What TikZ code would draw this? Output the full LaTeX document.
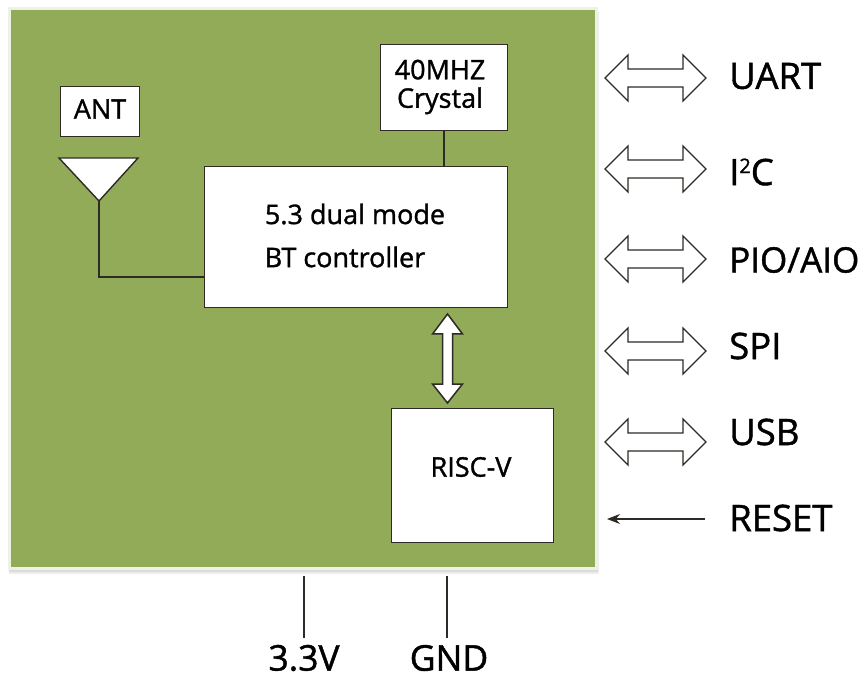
\documentclass[tikz,border=0pt]{standalone}
\usepackage{fontspec}
\setmainfont[FakeBold=1.2]{Open Sans}
\usetikzlibrary{positioning,calc,arrows.meta}
\definecolor{panelgreen}{HTML}{91AB58}
\definecolor{panelrim}{HTML}{EEF2E4}
\definecolor{inkline}{HTML}{2E2A25}
\tikzset{
  x=1pt,y=-1pt,
  wbox/.style={draw=inkline,fill=white,line width=1.4pt,inner sep=0pt,anchor=north west},
  boxtext/.style={inner sep=0pt,align=center,font=\fontsize{27}{28.5}\selectfont},
  wire/.style={draw=inkline,line width=1.4pt},
  fatarrow/.style={draw=inkline,fill=white,line width=1.3pt,line join=miter},
  sidelabel/.style={anchor=west,inner sep=0pt,font=\fontsize{36.5}{38}\selectfont},
  pinlabel/.style={anchor=center,inner sep=0pt,font=\fontsize{35.5}{38}\selectfont},
}
\newcommand{\hdouble}[1]{%
  \draw[fatarrow] (605,#1) -- (628,#1-23) -- (628,#1-9) -- (683,#1-9) -- (683,#1-23)
    -- (706,#1) -- (683,#1+23) -- (683,#1+9) -- (628,#1+9) -- (628,#1+23) -- cycle;}
\begin{document}
\begin{tikzpicture}
\useasboundingbox (0,0) rectangle (863,679);
% panel shadow, rim, fill
\fill[black!7] (9,12) rectangle (599,574);
\fill[black!14] (9,12) rectangle (598,572);
\fill[panelrim] (8,7) rectangle (598,570);
\fill[panelgreen] (11,10) rectangle (595,567);
% blocks
\node[wbox,minimum width=79pt,minimum height=50pt] (ant) at (60,86) {};
\node[boxtext] (anttext) at (100,109) {ANT};
\node[wbox,minimum width=127pt,minimum height=86pt] (xtal) at (380,44) {};
\node[boxtext] (xtaltext) at (440,87) {40MHZ\\Crystal};
\node[wbox,minimum width=303pt,minimum height=141pt] (bt) at (204,166) {};
\node[boxtext] (btone) at (355,214) {5.3 dual mode};
\node[boxtext] (bttwo) at (345,257) {BT controller};
\node[wbox,minimum width=162pt,minimum height=134pt] (riscv) at (391,408) {};
\node[boxtext] (riscvtext) at (471,467) {RISC-V};
% antenna
\coordinate (apex) at (99,201);
\coordinate (antleft) at (59,158);
\coordinate (antright) at (138,158);
\draw[wire,fill=white,line join=miter] (antleft) -- (antright) -- (apex) -- cycle;
\draw[wire] (apex) |- (bt.west |- 0,277);
\draw[wire] (xtal.south -| 444,0) -- (bt.north -| 444,0);
% vertical double arrow
\draw[fatarrow,line width=1.5pt] (447.5,314) -- (462.5,334) -- (452.5,334) -- (452.5,384) -- (462.5,384)
  -- (447.5,403) -- (432.5,384) -- (442.5,384) -- (442.5,334) -- (432.5,334) -- cycle;
% side arrows
\hdouble{78}
\hdouble{169}
\hdouble{259}
\hdouble{351}
\hdouble{442}
% reset
\node[sidelabel] (lreset) at (729,518) {RESET};
\coordinate (resetin) at (607,519);
\coordinate (resetout) at (705,519);
\draw[draw=inkline,line width=1.1pt,-{Stealth[length=13pt,width=10pt]}] (resetout) -- (resetin);
% side labels
\node[sidelabel] (luart) at (729,76) {UART};
\node[sidelabel] (lic) at (729,172) {I\raisebox{0.62ex}{\fontsize{20}{20}\selectfont 2}C};
\node[sidelabel,font=\fontsize{35}{38}\selectfont] (lpio) at (729,260) {PIO/AIO};
\node[sidelabel] (lspi) at (729,346) {SPI};
\node[sidelabel] (lusb) at (729,432) {USB};
% pins
\node[pinlabel] (lv) at (304,658) {3.3V};
\node[pinlabel] (lg) at (449,658) {GND};
\coordinate (vtop) at (304,576);
\coordinate (gtop) at (447,576);
\draw[wire,line width=1.1pt] (vtop) -- (304,638);
\draw[wire,line width=1.1pt] (gtop) -- (447,638);
\end{tikzpicture}
\end{document}
